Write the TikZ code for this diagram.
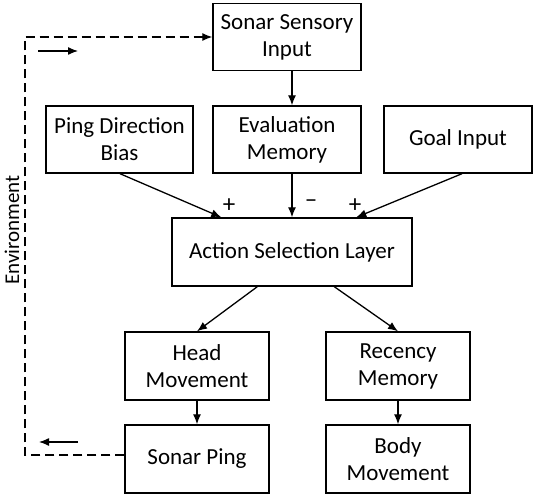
\documentclass[tikz,border=0pt]{standalone}
\usepackage{fontspec}
\setmainfont{Carlito}
\usetikzlibrary{arrows.meta,calc}
\begin{document}
\begin{tikzpicture}[x=1pt,y=-1pt,
  box/.style={draw,line width=1.4pt,align=center,inner sep=0pt,minimum height=67pt,font=\fontsize{23}{27}\selectfont},
  conn/.style={line width=1.3pt,-{Latex[length=10pt,width=8pt]}},
  env/.style={line width=1.3pt,dash pattern=on 9pt off 5pt},
  sign/.style={font=\fontsize{25}{28}\selectfont,inner sep=0pt}]
\useasboundingbox (0,0) rectangle (536,497);
\node[box,minimum width=148pt] (ssi) at (287,37) {Sonar Sensory\\Input};
\node[box,minimum width=147pt] (pdb) at (119.5,139.5) {Ping Direction\\Bias};
\node[box,minimum width=148pt] (em) at (287,139.5) {Evaluation\\Memory};
\node[box,minimum width=148pt] (gi) at (458,139.5) {Goal Input};
\node[box,minimum width=240pt,minimum height=68pt] (asl) at (292,252) {Action Selection Layer};
\node[box,minimum width=144pt,minimum height=68pt] (hm) at (197,366) {Head\\Movement};
\node[box,minimum width=144pt,minimum height=68pt] (rm) at (398,366) {Recency\\Memory};
\node[box,minimum width=144pt,minimum height=68pt] (sp) at (197,459) {Sonar Ping};
\node[box,minimum width=144pt,minimum height=68pt] (bm) at (398,459) {Body\\Movement};

\draw[conn] (ssi.south -| asl) -- (em.north -| asl);
\draw[conn] (em.south -| asl) -- (asl.north);
\draw[conn] ($(pdb.south)+(0.5,0)$) -- ($(asl.north west)+(50,0)$);
\draw[conn] ($(gi.south)+(4,0)$) -- ($(asl.north west)+(185,0)$);
\draw[conn] ($(asl.south west)+(86,0)$) -- (hm.north);
\draw[conn] ($(asl.south west)+(163,0)$) -- (rm.north);
\draw[conn] (hm) -- (sp);
\draw[conn] (rm) -- (bm);

\node[sign] (p1) at (229,206) {+};
\node[sign] (m1) at (311,204) {–};
\node[sign] (p2) at (355,206) {+};

\coordinate (c1) at (25,455);
\coordinate (c2) at (25,37);
\draw[env,-{Latex[length=10pt,width=8pt]}] ($(sp.west)+(0,-4)$) -- (c1) -- (c2) -- (ssi.west);
\coordinate (a1) at (38,51);
\coordinate (a2) at (78,51);
\coordinate (b1) at (78,442);
\coordinate (b2) at (39,442);
\draw[conn] (a1) -- (a2);
\draw[conn] (b1) -- (b2);
\node[rotate=90,font=\fontsize{21}{24}\selectfont,inner sep=0pt] (envl) at (12,230) {Environment};
\end{tikzpicture}
\end{document}
